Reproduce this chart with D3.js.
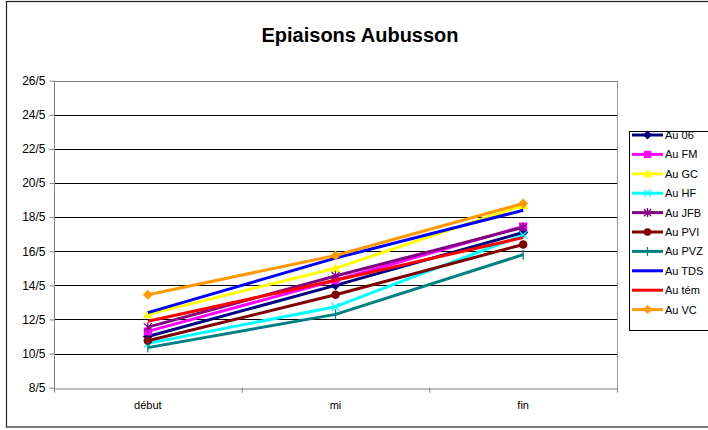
<!DOCTYPE html>
<html><head><meta charset="utf-8">
<script src="https://cdn.jsdelivr.net/npm/d3@7"></script>
<style>body{margin:0;background:#fff}svg{display:block}text{font-family:Arial,"Liberation Sans",sans-serif}</style>
</head><body><svg id="c" width="708" height="430"></svg>
<script>
const categories = ["début", "mi", "fin"];
const yTicks = [8,10,12,14,16,18,20,22,24,26];
const seriesNames = ["Au 06","Au FM","Au GC","Au HF","Au JFB","Au PVI","Au PVZ","Au TDS","Au tém","Au VC"];
const au06  = [11.0, 14.0, 17.1];
const auFM  = [11.3, 14.3, 17.45];
const auGC  = [12.3, 15.0, 18.7];
const auHF  = [10.6, 12.75, 16.95];
const auJFB = [11.55, 14.55, 17.4];
const auPVI = [10.75, 13.45, 16.4];
const auPVZ = [10.35, 12.3, 15.8];
const auTDS = [12.4, 15.6, 18.4];
const auTem = [11.9, 14.3, 16.8];
const auVC  = [13.45, 15.75, 18.8];
const colors = ["#000080","#FF00FF","#FFFF00","#00FFFF","#800080","#800000","#008080","#0000FF","#FF0000","#FF9900"];
const markers = ["diamond","square","triangle","x","star","circle","plus","none","none","diamond"];
const values = [au06,auFM,auGC,auHF,auJFB,auPVI,auPVZ,auTDS,auTem,auVC];

const svg = d3.select("#c");
// chart border
svg.append("rect").attr("x",6.5).attr("y",1.5).attr("width",720).attr("height",425.5)
  .attr("fill","none").attr("stroke","#222").attr("stroke-width",1.2);

svg.append("text").attr("x",360).attr("y",42).attr("text-anchor","middle")
  .attr("font-size",20).attr("font-weight","bold").text("Epiaisons Aubusson");

const L=54, R=617, T=80.7, B=387.7;
const x = d3.scaleBand().domain(categories).range([L,R]);
const y = d3.scaleLinear().domain([8,26]).range([B,T]);

// gridlines
svg.append("g").selectAll("line").data(yTicks.slice(1)).join("line")
  .attr("x1",L).attr("x2",R).attr("y1",d=>Math.round(y(d))+0.5).attr("y2",d=>Math.round(y(d))+0.5)
  .attr("stroke",(d,i)=>d===26?"#808080":"#000").attr("stroke-width",1);
// right border of plot
svg.append("line").attr("x1",R+0.5).attr("x2",R+0.5).attr("y1",T).attr("y2",B).attr("stroke","#999");

// y axis
const ya = svg.append("g").attr("transform",`translate(${L+0.5},0)`)
  .call(d3.axisLeft(y).tickValues(yTicks).tickSize(5).tickFormat(d=>d+"/5"));
ya.selectAll("path,line").attr("stroke","#808080");
ya.select("path").attr("d",`M0,${T}V${B+0.5}`);
ya.selectAll("text").attr("font-size",12).attr("fill","#000").attr("x",-9).attr("font-family","Arial, 'Liberation Sans', sans-serif");
// x axis
const xa = svg.append("g").attr("transform",`translate(0,${Math.round(B)+0.5})`)
  .call(d3.axisBottom(x).tickSize(0).tickSizeOuter(0));
xa.select("path").attr("stroke","#808080");
xa.selectAll("text").attr("font-size",11).attr("fill","#000").attr("dy","1.6em").attr("font-family","Arial, 'Liberation Sans', sans-serif");
svg.append("g").selectAll("line").data([L,L+x.bandwidth(),L+2*x.bandwidth(),R]).join("line")
  .attr("x1",d=>d+0.5).attr("x2",d=>d+0.5).attr("y1",B).attr("y2",B+5).attr("stroke","#808080");

function drawMarker(g, type, color, cx, cy, s){
  if(type==="diamond"){g.append("path").attr("d",`M${cx},${cy-s}L${cx+s},${cy}L${cx},${cy+s}L${cx-s},${cy}Z`).attr("fill",color);}
  else if(type==="square"){g.append("rect").attr("x",cx-s*0.8).attr("y",cy-s*0.8).attr("width",s*1.6).attr("height",s*1.6).attr("fill",color);}
  else if(type==="triangle"){g.append("path").attr("d",`M${cx},${cy-s}L${cx+s},${cy+s*0.75}L${cx-s},${cy+s*0.75}Z`).attr("fill",color);}
  else if(type==="circle"){g.append("circle").attr("cx",cx).attr("cy",cy).attr("r",s*0.85).attr("fill",color);}
  else if(type==="x"){g.append("path").attr("d",`M${cx-s*0.8},${cy-s*0.8}L${cx+s*0.8},${cy+s*0.8}M${cx-s*0.8},${cy+s*0.8}L${cx+s*0.8},${cy-s*0.8}`).attr("stroke",color).attr("stroke-width",1.3);}
  else if(type==="plus"){g.append("path").attr("d",`M${cx},${cy-s}L${cx},${cy+s}`).attr("stroke",color).attr("stroke-width",1.3);}
  else if(type==="star"){g.append("path").attr("d",`M${cx-s*0.8},${cy-s*0.8}L${cx+s*0.8},${cy+s*0.8}M${cx-s*0.8},${cy+s*0.8}L${cx+s*0.8},${cy-s*0.8}M${cx},${cy-s}L${cx},${cy+s}`).attr("stroke",color).attr("stroke-width",1.3);}
}

const line = d3.line().x((d,i)=>x(categories[i])+x.bandwidth()/2).y(d=>y(d));
seriesNames.forEach((name,k)=>{
  const g = svg.append("g");
  g.append("path").datum(values[k]).attr("d",line).attr("fill","none")
    .attr("stroke",colors[k]).attr("stroke-width",3).attr("stroke-linejoin","round");
  values[k].forEach((v,i)=>{
    if(markers[k]!=="none") drawMarker(g, markers[k], colors[k], x(categories[i])+x.bandwidth()/2, y(v), 5);
  });
});

// legend
const lg = svg.append("g");
lg.append("rect").attr("x",629.5).attr("y",131.5).attr("width",90).attr("height",199)
  .attr("fill","#fff").attr("stroke","#000").attr("stroke-width",1);
seriesNames.forEach((name,k)=>{
  const yy = 135 + k*19.4;
  lg.append("line").attr("x1",632).attr("x2",663).attr("y1",yy).attr("y2",yy).attr("stroke",colors[k]).attr("stroke-width",3);
  if(markers[k]!=="none") drawMarker(lg, markers[k], colors[k], 647.5, yy, 4.5);
  lg.append("text").attr("x",665).attr("y",yy+4).attr("font-size",11).text(name);
});
</script></body></html>
